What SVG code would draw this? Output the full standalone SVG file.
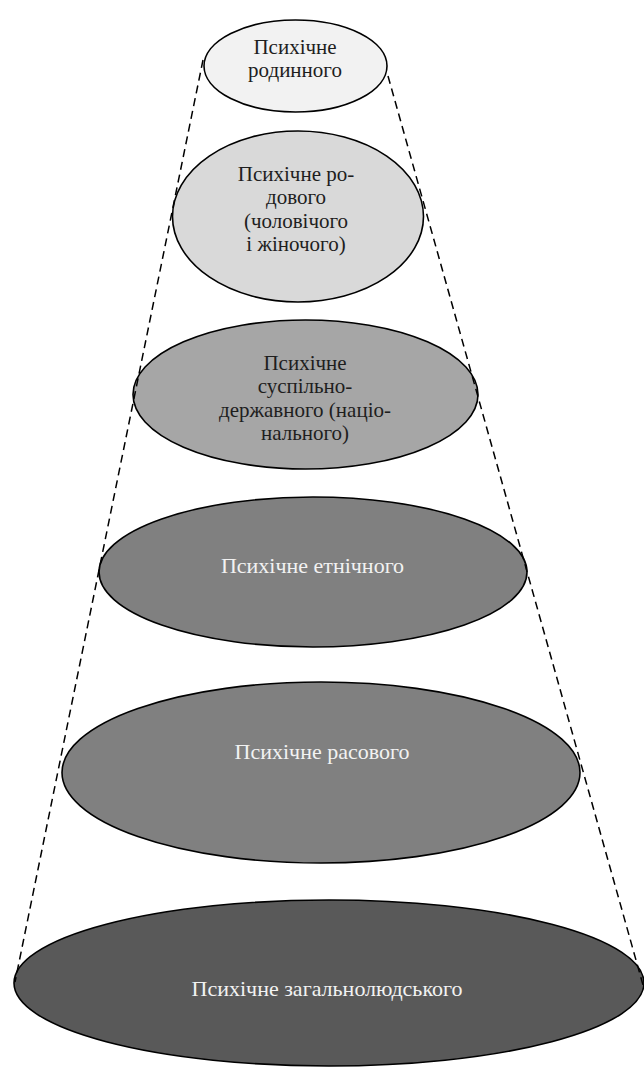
<svg xmlns="http://www.w3.org/2000/svg" width="644" height="1068" viewBox="0 0 644 1068">
<style>
.node ellipse{stroke:#000;stroke-width:1.6}
.dark text{fill:#f2f2f2}
.light text{fill:#1e1e1e}
text{font-family:"Liberation Serif","DejaVu Serif",serif;font-size:22px;text-anchor:middle}
text.ml{font-size:21px}
.conn line{stroke:#000;stroke-width:1.5;stroke-dasharray:8,5;fill:none}
</style>
<rect width="644" height="1068" fill="#fff"/>
<g id="n1" class="node light">
<ellipse cx="295.5" cy="66" rx="91.5" ry="46" fill="#f2f2f2"/>
<text class="ml" x="295" y="54">Психічне<tspan x="295" dy="23.3">родинного</tspan></text>
</g>
<g id="n2" class="node light">
<ellipse cx="298" cy="216.5" rx="125.5" ry="85.5" fill="#d9d9d9"/>
<text class="ml" x="296" y="181">Психічне ро-<tspan x="296" dy="23.3">дового</tspan><tspan x="296" dy="23.3">(чоловічого</tspan><tspan x="296" dy="23.3">і жіночого)</tspan></text>
</g>
<g id="n3" class="node light">
<ellipse cx="305.5" cy="394.5" rx="172.5" ry="74.5" fill="#a6a6a6"/>
<text class="ml" x="305" y="370">Психічне<tspan x="305" dy="23.4">суспільно-</tspan><tspan x="305" dy="23.4">державного (націо-</tspan><tspan x="305" dy="23.4">нального)</tspan></text>
</g>
<g id="n4" class="node dark">
<ellipse cx="313" cy="572" rx="214" ry="75" fill="#808080"/>
<text x="312.5" y="573">Психічне етнічного</text>
</g>
<g id="n5" class="node dark">
<ellipse cx="321" cy="772.5" rx="259" ry="90.5" fill="#808080"/>
<text x="322" y="759">Психічне расового</text>
</g>
<g id="n6" class="node dark">
<ellipse cx="329" cy="983" rx="315" ry="83" fill="#595959"/>
<text x="327" y="996">Психічне загальнолюдського</text>
</g>
<g id="connectors" class="conn">
<line x1="203" y1="60" x2="15" y2="982"/>
<line x1="388" y1="76" x2="643" y2="985"/>
</g>
</svg>
